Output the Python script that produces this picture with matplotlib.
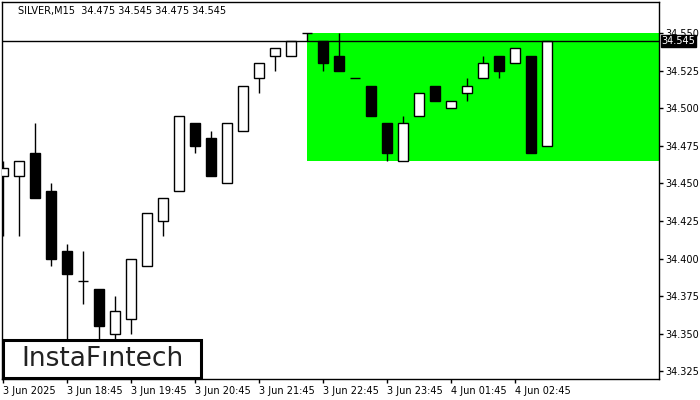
import matplotlib
matplotlib.use("Agg")
import matplotlib.pyplot as plt
from matplotlib.patches import Rectangle
from matplotlib.transforms import blended_transform_factory

# M15 candles, SILVER
opens = [34.455, 34.455, 34.470, 34.445, 34.405, 34.385, 34.380, 34.350, 34.360, 34.395,
         34.425, 34.445, 34.490, 34.480, 34.450, 34.485, 34.520, 34.535, 34.535, 34.550,
         34.545, 34.535, 34.520, 34.515, 34.490, 34.465, 34.495, 34.515, 34.500, 34.510,
         34.520, 34.535, 34.530, 34.535, 34.475]
highs = [34.465, 34.465, 34.490, 34.450, 34.410, 34.405, 34.380, 34.375, 34.400, 34.430,
         34.440, 34.495, 34.490, 34.485, 34.490, 34.515, 34.530, 34.540, 34.545, 34.550,
         34.545, 34.550, 34.520, 34.515, 34.490, 34.495, 34.510, 34.515, 34.505, 34.520,
         34.535, 34.535, 34.540, 34.535, 34.545]
lows = [34.415, 34.415, 34.440, 34.395, 34.340, 34.370, 34.340, 34.340, 34.350, 34.395,
        34.415, 34.445, 34.470, 34.455, 34.450, 34.485, 34.510, 34.525, 34.535, 34.545,
        34.525, 34.525, 34.520, 34.495, 34.465, 34.465, 34.495, 34.505, 34.500, 34.505,
        34.520, 34.520, 34.530, 34.470, 34.475]
closes = [34.460, 34.465, 34.440, 34.400, 34.390, 34.385, 34.355, 34.365, 34.400, 34.430,
          34.440, 34.495, 34.475, 34.455, 34.490, 34.515, 34.530, 34.540, 34.545, 34.550,
          34.530, 34.525, 34.520, 34.495, 34.470, 34.490, 34.510, 34.505, 34.505, 34.515,
          34.530, 34.525, 34.540, 34.470, 34.545]

x_tick_idx = [0, 4, 8, 12, 16, 20, 24, 28, 32]
x_tick_labels = ["3 Jun 2025", "3 Jun 18:45", "3 Jun 19:45", "3 Jun 20:45", "3 Jun 21:45",
                 "3 Jun 22:45", "3 Jun 23:45", "4 Jun 01:45", "4 Jun 02:45"]
y_ticks = [34.325, 34.350, 34.375, 34.400, 34.425, 34.450, 34.475, 34.500, 34.525, 34.550]

# pattern zone (rectangle) and current price
zone_start = 19
zone_top = 34.550
zone_bottom = 34.465
last_price = 34.545
title = "SILVER,M15  34.475 34.545 34.475 34.545"

W, H = 700, 400
fig = plt.figure(figsize=(7, 4), dpi=100)
ax = fig.add_axes([2 / W, (H - 379) / H, 657 / W, 377 / H])

body_w = 0.68
n = len(opens)

# green zone
ax.add_patch(Rectangle((zone_start, zone_bottom), 60, zone_top - zone_bottom,
                       facecolor="#00ff00", edgecolor="none", zorder=1))

for i in range(n):
    o, h, l, c = opens[i], highs[i], lows[i], closes[i]
    ax.vlines(i, l, h, color="black", lw=1.0, zorder=2)
    if abs(c - o) < 1e-9:
        ax.hlines(o, i - body_w / 2, i + body_w / 2, color="black", lw=1.0, zorder=3)
    else:
        fc = "white" if c > o else "black"
        ax.add_patch(Rectangle((i - body_w / 2, min(o, c)), body_w, abs(c - o),
                               facecolor=fc, edgecolor="black", lw=1.0, zorder=3))

ax.axhline(last_price, color="black", lw=1.0, zorder=4)

ax.set_xlim(-0.06, 41.0)
ax.set_ylim(34.3198, 34.5708)

ax.yaxis.tick_right()
ax.set_yticks(y_ticks)
ax.set_yticklabels([f"{v:.3f}" for v in y_ticks])
ax.set_xticks(x_tick_idx)
ax.set_xticklabels(x_tick_labels, ha="left")
ax.tick_params(axis="both", direction="out", length=3, width=1, labelsize=7,
               colors="black", pad=1.5)
ax.tick_params(axis="x", pad=2)
for sp in ax.spines.values():
    sp.set_linewidth(1.0)
    sp.set_color("black")

# price tag on the right
tr = blended_transform_factory(ax.transAxes, ax.transData)
ax.text(1.004, last_price, "34.545", transform=tr, ha="left", va="center",
        fontsize=7, color="white", zorder=6, clip_on=False,
        bbox=dict(boxstyle="square,pad=0.1", facecolor="black", edgecolor="black"))

fig.text(18 / W, 1 - 11 / H, title, ha="left", va="center", fontsize=7, color="black")

# logo box
fig.patches.append(Rectangle((3 / W, (H - 378) / H), 198 / W, 38 / H,
                             transform=fig.transFigure, facecolor="white",
                             edgecolor="black", lw=2.2, zorder=10))
fig.text(102 / W, 1 - 359 / H, "InstaF\u0131ntech", ha="center", va="center",
         fontsize=19, color="#222222", zorder=11, family="DejaVu Sans")

fig.savefig("out.png", dpi=100)
